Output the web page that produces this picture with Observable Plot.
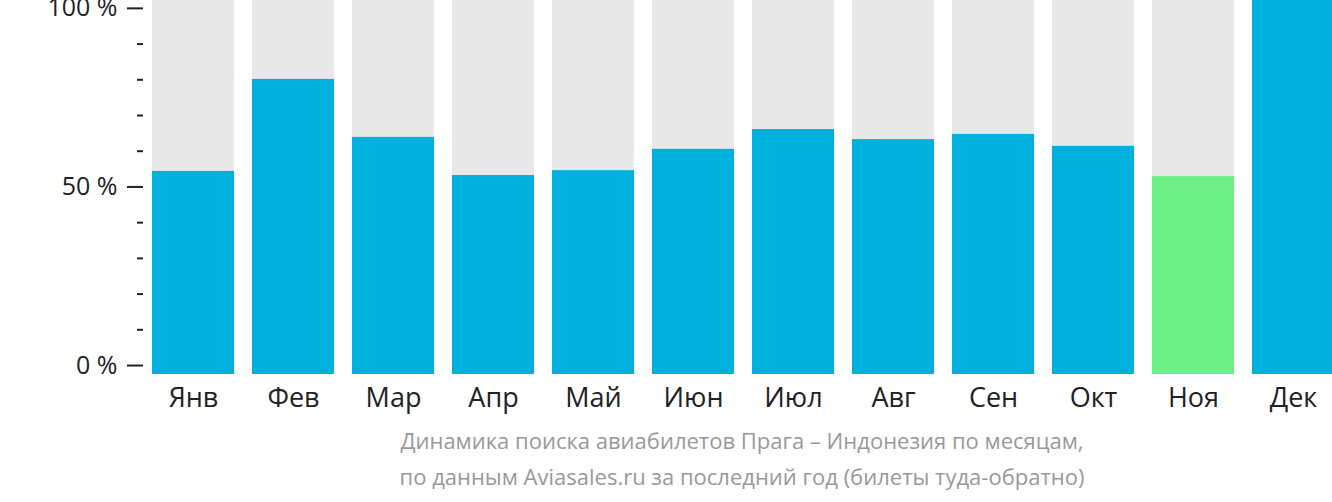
<!DOCTYPE html>
<html>
<head>
<meta charset="utf-8">
<script src="https://cdn.jsdelivr.net/npm/d3@7"></script>
<script src="https://cdn.jsdelivr.net/npm/@observablehq/plot@0.6"></script>
<style>
  html, body { margin: 0; padding: 0; background: #fff; }
  #chart svg { display: block; }
  .caption {
    width: 1200px; margin-left: 142px; text-align: center; padding-top: 2px;
    font-family: "Open Sans", sans-serif; font-size: 22px; line-height: 36px;
    color: #999999;
  }
</style>
</head>
<body>
<div id="chart"></div>
<div class="caption">Динамика поиска авиабилетов Прага – Индонезия по месяцам,<br>по данным Aviasales.ru за последний год (билеты туда-обратно)</div>
<script>
const months = ["Янв","Фев","Мар","Апр","Май","Июн","Июл","Авг","Сен","Окт","Ноя","Дек"];
const values = [54.3, 78.9, 63.4, 53.2, 54.5, 60.2, 65.5, 62.8, 64.2, 61.0, 52.9, 100];
const highlight = ["Ноя"];
const majorTicks = [0, 50, 100];
const minorTicks = [10, 20, 30, 40, 60, 70, 80, 90];

const data = months.map((m, i) => ({month: m, value: values[i], full: 100}));
// axis labels are offset from the bar baseline in the original
const axisAt = d3.scaleLinear([0, 100], [2.4, 97.9]);
const axisFrom = (v) => Math.round(axisAt.invert(v));

const chart = Plot.plot({
  width: 1332,
  height: 420,
  marginLeft: 143,
  marginRight: 0,
  marginTop: 0,
  marginBottom: 46,
  style: {fontFamily: "'Open Sans', sans-serif", fontSize: "26px", color: "#222"},
  x: {domain: months, range: [143, 1343], paddingInner: 0.18, paddingOuter: 0.09, label: null},
  y: {domain: [0, 100], range: [374, 0], label: null},
  marks: [
    Plot.barY(data, {x: "month", y: "full", fill: "#e8e8e8"}),
    Plot.barY(data, {x: "month", y: "value", fill: d => highlight.includes(d.month) ? "#6cf086" : "#00b1dd"}),
    Plot.axisX({tickSize: 0, tickPadding: 13, fontSize: 27}),
    Plot.axisY(majorTicks.map(v => axisAt(v)), {tickSize: 16, tickPadding: 10, tickFormat: v => `${axisFrom(v)} %`, fontSize: 25, strokeWidth: 2}),
    Plot.axisY(minorTicks.map(v => axisAt(v)), {tickSize: 6, tickFormat: () => "", strokeWidth: 2})
  ]
});
document.getElementById("chart").appendChild(chart);
</script>
</body>
</html>
